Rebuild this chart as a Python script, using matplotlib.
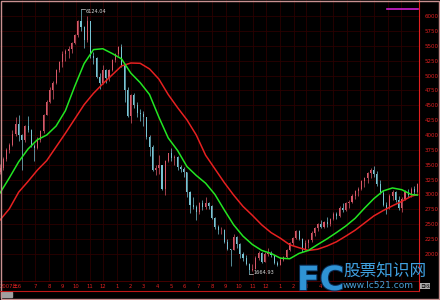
import numpy as np
import pandas as pd
import matplotlib
matplotlib.use('Agg')
import matplotlib.pyplot as plt
import matplotlib.patheffects as pe
from matplotlib.lines import Line2D
from matplotlib.patches import Rectangle

plt.rcParams['font.family'] = ['DejaVu Sans', 'Noto Sans CJK SC', 'Noto Sans CJK TC']

# weekly bars, first bar week ending 2007-04-13
first_week = '2007-04-13'
opens = [3380, 3450, 3590, 3740, 3840, 4020, 4180, 4000, 3910, 4150,
         4090, 3820, 3780, 3910, 4060, 4340, 4560, 4750, 4870, 5100,
         5220, 5360, 5420, 5450, 5550, 5680, 5910, 5820, 5590, 5910,
         5320, 5300, 4980, 4870, 5090, 4950, 5100, 5260, 5360, 5480,
         5180, 4760, 4320, 4670, 4500, 4370, 4350, 4300, 3960, 3800,
         3410, 3450, 3490, 3090, 3560, 3690, 3610, 3630, 3470, 3430,
         3380, 3050, 2830, 2790, 2700, 2860, 2790, 2860, 2800, 2600,
         2450, 2400, 2400, 2200, 2080, 2070, 2290, 2170, 2000, 1930,
         1840, 1730, 1750, 1930, 2020, 1870, 2000, 2010, 1980, 1850,
         1820, 1900, 1950, 2060, 2180, 2270, 2390, 2260, 2080, 2190,
         2230, 2360, 2440, 2500, 2460, 2540, 2500, 2590, 2680, 2640,
         2780, 2740, 2860, 2880, 2980, 3060, 3090, 3230, 3280, 3360,
         3420, 3350, 3180, 3030, 2830, 2780, 2980, 3050, 2900, 2780,
         2920, 3040, 2990, 3100, 3050]
highs = [3520, 3630, 3780, 3870, 4080, 4300, 4335, 4020, 4160, 4312,
         4100, 3850, 3960, 4080, 4350, 4580, 4800, 4900, 5110, 5240,
         5410, 5440, 5500, 5560, 5700, 5930, 6124.04, 5830, 6005, 5920,
         5400, 5310, 5050, 5180, 5110, 5110, 5270, 5370, 5500, 5522,
         5200, 4800, 4690, 4700, 4560, 4440, 4400, 4310, 4000, 3830,
         3500, 3660, 3500, 3580, 3700, 3786, 3660, 3640, 3500, 3460,
         3380, 3060, 2960, 2820, 2880, 2900, 2950, 2880, 2820, 2620,
         2480, 2450, 2420, 2250, 2090, 2333, 2300, 2180, 2040, 1990,
         1850, 1830, 1960, 2050, 2030, 2030, 2100, 2050, 1990, 1880,
         1950, 1970, 2080, 2200, 2290, 2402, 2400, 2270, 2240, 2250,
         2380, 2450, 2520, 2570, 2560, 2620, 2600, 2700, 2710, 2800,
         2860, 2880, 2910, 3000, 3080, 3125, 3250, 3300, 3380, 3440,
         3478, 3400, 3250, 3076, 2870, 3000, 3076, 3060, 2980, 2950,
         3076, 3100, 3125, 3150, 3190]
lows = [3350, 3420, 3560, 3700, 3820, 3990, 3900, 3404, 3880, 4050,
        3800, 3563, 3760, 3880, 4040, 4330, 4540, 4600, 4860, 5060,
        5150, 5240, 5300, 5380, 5530, 5650, 5750, 5460, 5570, 5300,
        5200, 4950, 4778, 4860, 4880, 4900, 5080, 5230, 5320, 5150,
        4559, 4300, 4195, 4450, 4300, 4230, 4150, 3930, 3650, 3400,
        3330, 3350, 3070, 2990, 3540, 3560, 3500, 3420, 3380, 3300,
        2950, 2695, 2750, 2566, 2680, 2740, 2760, 2750, 2580, 2420,
        2330, 2330, 2180, 2060, 1802, 2060, 2100, 1930, 1890, 1810,
        1664.93, 1706, 1740, 1900, 1850, 1860, 1960, 1950, 1830, 1800,
        1815, 1880, 1940, 2050, 2150, 2260, 2230, 2037, 2070, 2100,
        2200, 2300, 2390, 2430, 2430, 2460, 2470, 2570, 2590, 2630,
        2700, 2730, 2770, 2860, 2920, 2980, 3076, 3120, 3200, 3280,
        3300, 3150, 3000, 2800, 2667, 2760, 2900, 2870, 2740, 2712,
        2900, 2960, 2950, 3000, 3030]
closes = [3450, 3590, 3740, 3840, 4020, 4180, 4000, 3910, 4150, 4090,
          3820, 3780, 3910, 4060, 4340, 4560, 4750, 4870, 5100, 5220,
          5360, 5420, 5450, 5550, 5680, 5910, 5820, 5590, 5910, 5320,
          5300, 4980, 4870, 5090, 4950, 5100, 5260, 5360, 5480, 5180,
          4760, 4320, 4670, 4500, 4370, 4350, 4300, 3960, 3800, 3410,
          3450, 3490, 3090, 3560, 3690, 3610, 3630, 3470, 3430, 3380,
          3050, 2830, 2790, 2700, 2860, 2790, 2860, 2800, 2600, 2450,
          2400, 2400, 2200, 2080, 2070, 2290, 2170, 2000, 1930, 1840,
          1730, 1750, 1930, 2020, 1870, 2000, 2010, 1980, 1850, 1820,
          1900, 1950, 2060, 2180, 2270, 2390, 2260, 2080, 2190, 2230,
          2360, 2440, 2500, 2460, 2540, 2500, 2590, 2680, 2640, 2780,
          2740, 2860, 2880, 2980, 3060, 3090, 3230, 3280, 3360, 3420,
          3350, 3180, 3030, 2830, 2780, 2980, 3050, 2900, 2780, 2920,
          3040, 2990, 3100, 3050, 3170]

# moving averages, read every third week (plus the last week)
ma60 = [3025, 3280, 3550, 3765, 3920, 4000, 4150, 4410, 4820, 5200,
        5435, 5450, 5370, 5280, 5040, 4880, 4680, 4300, 3950, 3740,
        3470, 3320, 3190, 3000, 2740, 2490, 2300, 2160, 2060, 2010,
        1930, 1920, 2010, 2060, 2160, 2255, 2360, 2470, 2600, 2770,
        2930, 3060, 3110, 3080, 3000, 2990]
ma120 = [2570, 2760, 3040, 3220, 3410, 3570, 3800, 4030, 4270, 4510,
         4700, 4860, 5010, 5160, 5210, 5205, 5110, 4940, 4680, 4460,
         4255, 4000, 3660, 3430, 3200, 2990, 2800, 2650, 2490, 2360,
         2265, 2155, 2105, 2060, 2080, 2135, 2205, 2300, 2400, 2520,
         2640, 2730, 2810, 2885, 2970, 3000]

# month labels visible in the bottom band (later ones sit under the watermark)
month_labels = ['2007年6', '7', '8', '9', '10', '11', '12', '1', '2', '3',
                '4', '5', '6', '7', '8', '9', '10', '11', '12', '1',
                '2', '3', '4']
price_levels = list(range(2000, 6001, 250))

RED = '#e02020'
UP = '#d85868'
DOWN = '#78c4d4'

o = np.array(opens, float)
h = np.array(highs, float)
l = np.array(lows, float)
c = np.array(closes, float)
dates = pd.date_range(first_week, periods=len(c), freq='7D')
ma_dates = list(dates[::3]) + [dates[-1]]
grid_months = pd.date_range('2007-06-01', '2009-10-01', freq='MS')
months = grid_months[:len(month_labels)]

fig = plt.figure(figsize=(4.4, 3.0), dpi=100, facecolor='black')
ax = fig.add_axes([0, 19 / 300, 419 / 440, 281 / 300], facecolor='black')

for m in grid_months:
    ax.axvline(m, color='#2a0000', lw=0.6, zorder=0)
for p in price_levels:
    ax.axhline(p, color='#2a0000', lw=0.6, zorder=0)

cols = np.where(c >= o, UP, DOWN)
ax.vlines(dates, l, h, colors=cols, lw=0.5, zorder=2)
ax.bar(dates, np.maximum(np.abs(c - o), 10), bottom=np.minimum(o, c),
       width=2.4, color=cols, linewidth=0, zorder=2)

ax.plot(ma_dates, ma120, color='#e62020', lw=1.1, zorder=3)
ax.plot(ma_dates, ma60, color='#22e622', lw=1.1, zorder=4)

# max / min marks
imax = int(np.argmax(h))
imin = int(np.argmin(l))
dd = pd.Timedelta(days=1)
ax.plot([dates[imax], dates[imax] + 8 * dd], [h[imax], h[imax]], color='#cccccc', lw=0.5)
ax.text(dates[imax] + 10 * dd, h[imax] - 40, '%.2f' % h[imax], color='#d8d8d8',
        fontsize=3.6, va='center', ha='left')
ax.plot([dates[imin], dates[imin] + 8 * dd], [l[imin], l[imin]], color='#cccccc', lw=0.5)
ax.text(dates[imin] + 10 * dd, l[imin] + 20, '%.2f' % l[imin], color='#d8d8d8',
        fontsize=3.6, va='center', ha='left')

ax.set_xlim(dates[0], dates[0] + 134.5 * 7 * dd)
ax.set_ylim(1546, 6269)
ax.set_xticks(months)
ax.set_xticklabels(month_labels)
ax.get_xticklabels()[0].set_ha('right')
ax.set_yticks(price_levels)
ax.yaxis.tick_right()
ax.tick_params(axis='y', colors=RED, labelsize=4, length=0, pad=4)
ax.tick_params(axis='x', colors=RED, labelsize=3.8, length=0, pad=2)
for s in ['top', 'left']:
    ax.spines[s].set_visible(False)
ax.spines['right'].set_color(RED)
ax.spines['right'].set_linewidth(0.8)
ax.spines['bottom'].set_color('#500000')
ax.spines['bottom'].set_linewidth(0.6)

# frame bits around the chart
fig.add_artist(Line2D([419 / 440, 419 / 440], [9 / 300, 19 / 300], color=RED, lw=0.8))
fig.add_artist(Line2D([0, 419 / 440], [9 / 300, 9 / 300], color='#c01818', lw=0.8))
fig.add_artist(Line2D([387 / 440, 418 / 440], [291 / 300, 291 / 300], color='#d020d0', lw=1.2))
fig.add_artist(Rectangle((1 / 440, 3 / 300), 11 / 440, 5 / 300, color='#a0a0a0',
                         transform=fig.transFigure))
fig.add_artist(Rectangle((0.002, 0.002), 0.996, 0.996, fill=False, edgecolor='#c89090',
                         lw=1.0, transform=fig.transFigure))
fig.text(425 / 440, 1 - 286 / 300, '日线', fontsize=3.5, color='black', ha='center', va='center',
         bbox=dict(facecolor='#b0b0b0', edgecolor='none', pad=0.4))

# watermark
fig.text(297 / 440, 1 - 290 / 300, 'FC', fontsize=24, fontweight='bold', color='#2f93d4',
         ha='left', va='baseline',
         path_effects=[pe.withStroke(linewidth=1.5, foreground='#0a2a50')])
fig.text(343 / 440, 1 - 271 / 300, '股票知识网', fontsize=12, color='#3fa0e0',
         ha='left', va='center', family=['Noto Sans CJK SC'])
fig.text(343 / 440, 1 - 286 / 300, 'www.lc521.com', fontsize=6.5, color='#4aa0d8',
         ha='left', va='center')

fig.savefig('out.png', dpi=100, facecolor='black')
